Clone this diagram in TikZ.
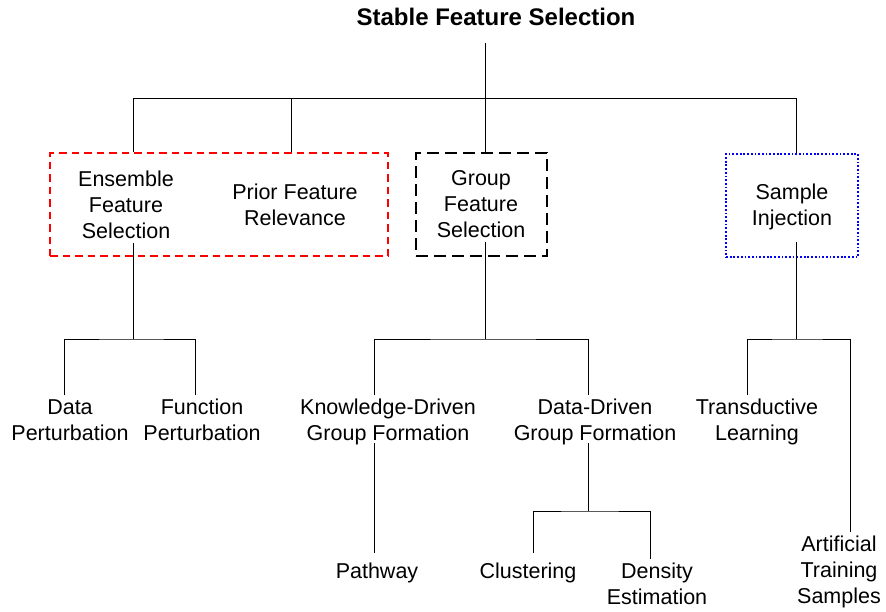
\documentclass[tikz,border=0pt]{standalone}
\usepackage{fontspec}
\setmainfont{Liberation Sans}
\usepackage{tikz}
\usetikzlibrary{positioning}
\tikzset{
  lbl/.style={align=center, inner sep=4pt, font=\fontsize{21.5pt}{26pt}\selectfont},
  ttl/.style={inner sep=0pt, font=\fontsize{24pt}{28pt}\selectfont\bfseries},
  edge/.style={line width=1pt},
  redbox/.style={draw=red, line width=2pt, dash pattern=on 7.5pt off 5pt, minimum width=338pt, minimum height=103pt},
  blkbox/.style={draw=black, line width=2.3pt, dash pattern=on 12pt off 6pt, minimum width=131pt, minimum height=103pt},
  blubox/.style={draw=blue, line width=1.8pt, dash pattern=on 1.8pt off 1.9pt, minimum width=132pt, minimum height=103pt}
}
\begin{document}
\begin{tikzpicture}[x=1pt,y=-1pt]
  \useasboundingbox (0,0) rectangle (886,611);
  \node[ttl] (root) at (496,16.5) {Stable Feature Selection};
  \node[redbox] (ensbox) at (219,204.5) {};
  \node[blkbox] (grpbox) at (481.5,204.5) {};
  \node[blubox] (smpbox) at (792,205.5) {};
  \node[lbl] (ens) at (126,204.5) {Ensemble\\Feature\\Selection};
  \node[lbl] (prior) at (295,204.5) {Prior Feature\\Relevance};
  \node[lbl] (grp) at (481,204.5) {Group\\Feature\\Selection};
  \node[lbl] (smp) at (792,206.8) {Sample\\Injection};
  \node[lbl] (dp) at (70,420) {Data\\Perturbation};
  \node[lbl] (fp) at (202,420) {Function\\Perturbation};
  \node[lbl] (kd) at (388,422.2) {Knowledge-Driven\\Group Formation};
  \node[lbl] (dd) at (595,422.2) {Data-Driven\\Group Formation};
  \node[lbl] (td) at (757,422.2) {Transductive\\Learning};
  \node[lbl] (pw) at (377,573.2) {Pathway};
  \node[lbl] (cl) at (528,573.2) {Clustering};
  \node[lbl] (de) at (657,584) {Density\\Estimation};
  \node[lbl] (ats) at (839,572) {Artificial\\Training\\Samples};
  \coordinate (b0) at (485,98);
  \coordinate (b1) at (133,98);
  \coordinate (b2) at (291,98);
  \coordinate (b4) at (796,98);
  \coordinate (j1) at (133,339);
  \coordinate (j2) at (485,339);
  \coordinate (j3) at (796,339);
  \coordinate (j4) at (588,511);
  \draw[edge, shorten <=17pt] (root.south -| b0) -- (b0);
  \draw[edge] (b1) -- (b4);
  \draw[edge] (b1) -- (b1 |- ensbox.north);
  \draw[edge] (b2) -- (b2 |- ensbox.north);
  \draw[edge] (b0) -- (b0 |- grpbox.north);
  \draw[edge] (b4) -- (b4 |- smpbox.north);
  \draw[edge] (ens.south -| j1) -- (j1);
  \draw[edge] ([xshift=-6pt]dp.north) |- (j1) -| ([xshift=-7pt]fp.north);
  \draw[edge] (grp.south -| j2) -- (j2);
  \draw[edge] ([xshift=-14pt]kd.north) |- (j2) -| ([xshift=-7pt]dd.north);
  \draw[edge, shorten <=8pt] (smp.south -| j3) -- (j3);
  \draw[edge] ([xshift=-10pt]td.north) |- (j3) -| ([xshift=11pt]ats.north);
  \draw[edge, shorten <=-6pt, shorten >=6pt] ([xshift=-14pt]kd.south) -- ([xshift=-3pt]pw.north);
  \draw[edge, shorten <=-6pt] (dd.south -| j4) -- (j4);
  \draw[edge] ([xshift=5pt,yshift=6pt]cl.north) |- (j4) -| ([xshift=-7pt]de.north);
\end{tikzpicture}
\end{document}
